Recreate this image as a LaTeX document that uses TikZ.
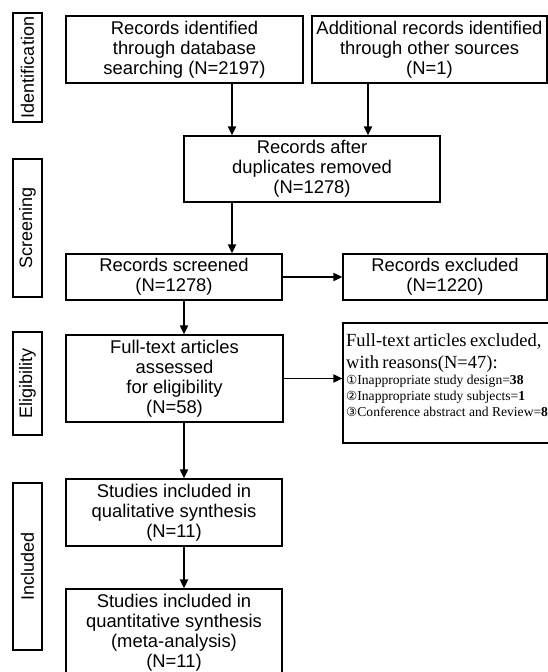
\documentclass[tikz,border=0pt]{standalone}
\usepackage{fontspec}
\setmainfont{Liberation Sans}
\newfontfamily\seriffont{Liberation Serif}
\newfontfamily\symfont{DejaVu Sans}
\usetikzlibrary{arrows.meta}
\begin{document}
\begin{tikzpicture}[x=1pt,y=-1pt,
  box/.style={draw, line width=1.2pt, inner sep=0pt, align=center,
    font=\fontsize{18.4}{20}\selectfont},
  side/.style={draw, line width=1.2pt, inner sep=0pt, rotate=90,
    minimum height=29pt, font=\fontsize{18}{20}\selectfont},
  arr/.style={line width=1.8pt, -{Triangle[length=9pt,width=8pt]}}]
\path[use as bounding box] (0,0) rectangle (548,672);
\clip (0,0) rectangle (548,672);
\fill[white] (0,0) rectangle (548,672);

% side labels
\node[side, minimum width=109pt] (s1) at (27.5,67.5) {Identification};
\node[side, minimum width=138pt] (s2) at (27.5,228) {Screening};
\node[side, minimum width=103pt] (s3) at (27.5,383.5) {Eligibility};
\node[side, minimum width=167pt] (s4) at (27.5,566.5) {Included};

% boxes
\node[box, minimum width=237pt, minimum height=67pt] (b1) at (184.5,49.5)
  {Records identified\\through database\\searching (N=2197)};
\node[box, minimum width=235pt, minimum height=67pt] (b2) at (429.5,49.5)
  {Additional records identified\\through other sources\\(N=1)};
\node[box, minimum width=256pt, minimum height=66pt] (b3) at (312,169)
  {Records after\\duplicates removed\\(N=1278)};
\node[box, minimum width=216pt, minimum height=46pt] (b4) at (174,277)
  {Records screened\\(N=1278)};
\node[box, minimum width=204pt, minimum height=46pt] (b5) at (445,277)
  {Records excluded\\(N=1220)};
\node[box, minimum width=217pt, minimum height=87pt] (b6) at (174.5,378.5)
  {Full-text articles\\assessed\\for eligibility\\(N=58)};
\node[draw, line width=1.2pt, minimum width=217pt, minimum height=120pt] (b7) at (451.5,383) {};
\node[anchor=north west, inner sep=0pt, text width=215pt, align=left] (b7t) at (346,333)
  {\seriffont\fontsize{18.5}{22}\selectfont Full-text articles excluded,\\with reasons(N=47):\par
   \fontsize{13.6}{16}\selectfont
   {\symfont\fontsize{12.5}{16}\selectfont ①}Inappropriate study design=\textbf{38}\\
   {\symfont\fontsize{12.5}{16}\selectfont ②}Inappropriate study subjects=\textbf{1}\\
   {\symfont\fontsize{12.5}{16}\selectfont ③}Conference abstract and Review=\textbf{8}\par};
\node[box, minimum width=216pt, minimum height=67pt] (b8) at (174,512.5)
  {Studies included in\\qualitative synthesis\\(N=11)};
\node[box, minimum width=216pt, minimum height=88pt] (b9) at (174,633)
  {Studies included in\\quantitative synthesis\\(meta-analysis)\\(N=11)};

% connectors
\coordinate (xa) at (232,0);
\coordinate (xb) at (368,0);
\coordinate (xc) at (184,0);
\draw[arr] (xa |- b1.south) -- (xa |- b3.north);
\draw[arr] (xb |- b2.south) -- (xb |- b3.north);
\draw[arr] (xa |- b3.south) -- (xa |- b4.north);
\draw[arr] (b4.east) -- (b4.east -| b5.west);
\draw[arr] (xc |- b4.south) -- (xc |- b6.north);
\draw[arr] (b6.east) -- (b6.east -| b7.west);
\draw[arr] (xc |- b6.south) -- (xc |- b8.north);
\draw[arr] (xc |- b8.south) -- (xc |- b9.north);
\end{tikzpicture}
\end{document}
